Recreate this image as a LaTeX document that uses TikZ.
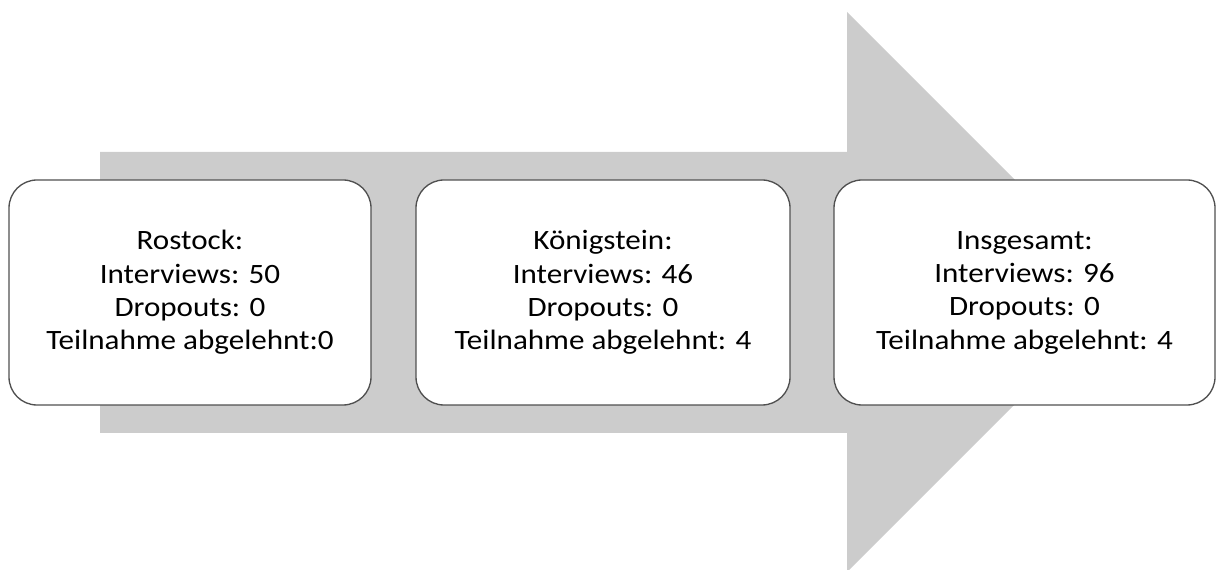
\documentclass[tikz,border=0pt]{standalone}
\usepackage{fontspec}
\setmainfont{Carlito}[FakeStretch=1.11]
\usepackage{xcolor}
\usetikzlibrary{positioning}
\definecolor{pfeilgrau}{HTML}{CCCCCC}
\definecolor{randgrau}{HTML}{505050}

\begin{document}
\begin{tikzpicture}[x=0.75pt,y=0.75pt,
    ort/.style={rectangle,rounded corners=21pt,draw=randgrau,line width=1pt,fill=white,
      align=center,inner sep=0pt,minimum height=168.75pt,
      font=\fontsize{21}{25}\selectfont}]
  \useasboundingbox (0,0) rectangle (1216,570);
  \clip (0,0) rectangle (1216,570);
  \fill[pfeilgrau] (100,418) -- (847,418) -- (847,558) -- (1127,278) -- (847,-2) -- (847,137) -- (100,137) -- cycle;
  \node[ort,minimum width=271.5pt] (ro) at (190,277.5) {Rostock:\\Interviews: 50\\Dropouts: 0\\Teilnahme abgelehnt:0};
  \node[ort,minimum width=280.5pt] (koe) at (603,277.5) {K\"onigstein:\\Interviews: 46\\Dropouts: 0\\Teilnahme abgelehnt: 4};
  \node[ort,minimum width=285.75pt] (ges) at (1024.5,277.5) {Insgesamt:\\Interviews: 96\\Dropouts: 0\\Teilnahme abgelehnt: 4};
\end{tikzpicture}
\end{document}
